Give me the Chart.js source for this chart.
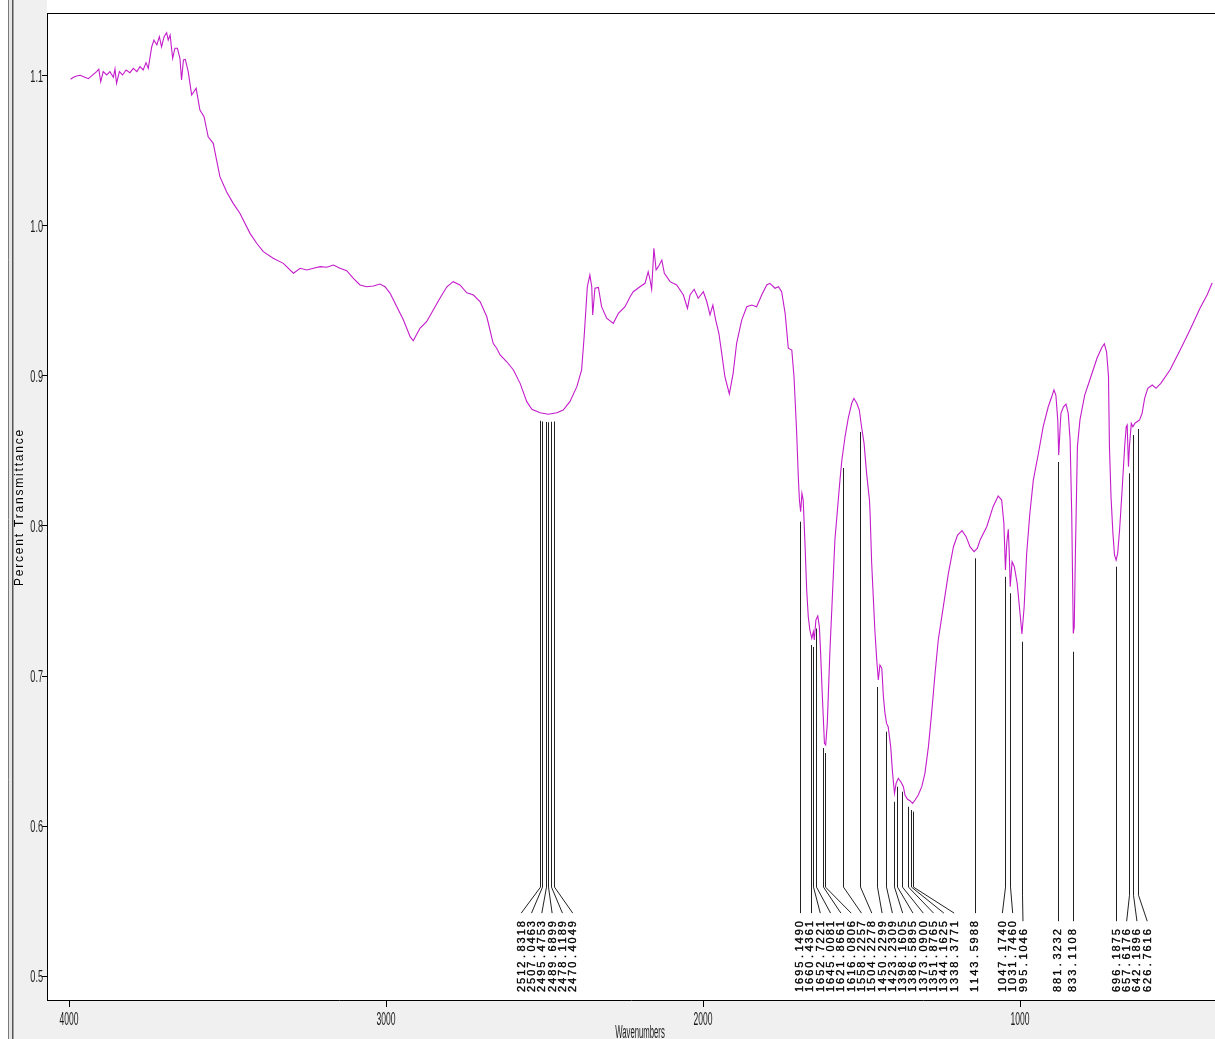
<!DOCTYPE html>
<html>
<head>
<meta charset="utf-8">
<title>IR Spectrum</title>
<script src="https://cdn.jsdelivr.net/npm/chart.js@4.4.1/dist/chart.umd.min.js"></script>
<style>
  html, body { margin: 0; padding: 0; background: #fff; overflow: hidden; }
  canvas { display: block; }
</style>
</head>
<body>
<canvas id="spectrum" width="1215" height="1039"></canvas>
<script>
// Spectrum: wavenumber (cm-1) and percent transmittance, high to low wavenumber
const wavenumbers = [
  3995, 3986, 3976, 3965, 3950, 3939, 3925, 3913, 3906, 3900, 3892, 3881, 3871, 3860, 3855, 3850,
  3841, 3831, 3820, 3808, 3797, 3786, 3776, 3766, 3757, 3750, 3739, 3732, 3723, 3715, 3708, 3700,
  3692, 3687, 3681, 3673, 3666, 3658, 3650, 3645, 3639, 3633, 3624, 3613, 3599, 3587, 3574, 3561,
  3545, 3524, 3503, 3482, 3461, 3429, 3408, 3387, 3356, 3324, 3292, 3271, 3250, 3229, 3208, 3187,
  3166, 3145, 3124, 3103, 3082, 3061, 3040, 3019, 3003, 2987, 2966, 2945, 2924, 2914, 2893, 2872,
  2851, 2830, 2808, 2788, 2767, 2745, 2724, 2703, 2682, 2662, 2651, 2640, 2619, 2598, 2577, 2556,
  2540, 2514, 2488, 2461, 2441, 2420, 2398, 2383, 2375, 2365, 2357, 2351, 2348, 2341, 2330, 2320,
  2304, 2283, 2267, 2246, 2230, 2220, 2199, 2183, 2173, 2167, 2162, 2155, 2148, 2141, 2130, 2122,
  2104, 2083, 2062, 2049, 2041, 2028, 2015, 1999, 1988, 1978, 1969, 1960, 1950, 1941, 1931, 1917,
  1905, 1894, 1878, 1862, 1846, 1831, 1815, 1799, 1789, 1773, 1762, 1752, 1741, 1731, 1720, 1713,
  1705, 1699, 1696, 1692, 1688, 1684, 1678, 1673, 1668, 1663, 1657, 1652, 1649, 1644, 1638, 1633,
  1629, 1624, 1617, 1613, 1608, 1600, 1592, 1584, 1576, 1568, 1562, 1552, 1542, 1531, 1524, 1515,
  1507, 1500, 1492, 1484, 1475, 1473, 1468, 1463, 1458, 1452, 1447, 1442, 1436, 1431, 1426, 1421,
  1416, 1408, 1402, 1396, 1391, 1384, 1376, 1368, 1363, 1355, 1347, 1339, 1331, 1321, 1310, 1300,
  1289, 1279, 1268, 1258, 1242, 1226, 1210, 1197, 1183, 1170, 1158, 1145, 1135, 1126, 1105, 1085,
  1069, 1058, 1051, 1046, 1042, 1037, 1034, 1031, 1025, 1018, 1009, 1000, 994, 987, 979, 969,
  958, 942, 927, 911, 900, 893, 887, 881, 878, 874, 871, 863, 855, 848, 842, 837,
  832, 829, 825, 819, 811, 796, 780, 757, 742, 734, 727, 721, 718, 713, 707, 702,
  697, 692, 686, 678, 670, 665, 662, 658, 655, 649, 644, 638, 631, 623, 615, 607,
  597, 583, 571, 556, 527, 495, 464, 432, 410, 394
];
const transmittance = [
  1.0978, 1.0991, 1.1000, 1.1005, 1.0991, 1.0982, 1.1007, 1.1029, 1.1045, 1.0962, 1.1029, 1.1007, 1.1029, 1.0991, 1.1047, 1.0951,
  1.1029, 1.1007, 1.1040, 1.1022, 1.1051, 1.1029, 1.1062, 1.1040, 1.1089, 1.1051, 1.1195, 1.1240, 1.1207, 1.1262, 1.1195, 1.1262,
  1.1289, 1.1240, 1.1273, 1.1118, 1.1185, 1.1185, 1.1118, 1.0973, 1.1107, 1.1111, 1.1029, 1.0873, 1.0918, 1.0773, 1.0729, 1.0595,
  1.0551, 1.0329, 1.0229, 1.0151, 1.0085, 0.9951, 0.9885, 0.9829, 0.9785, 0.9751, 0.9685, 0.9718, 0.9707, 0.9718, 0.9729, 0.9725,
  0.9740, 0.9718, 0.9702, 0.9651, 0.9607, 0.9595, 0.9600, 0.9613, 0.9595, 0.9551, 0.9462, 0.9373, 0.9262, 0.9235, 0.9318, 0.9362,
  0.9440, 0.9518, 0.9595, 0.9629, 0.9607, 0.9555, 0.9540, 0.9495, 0.9395, 0.9218, 0.9185, 0.9140, 0.9095, 0.9040, 0.8951, 0.8829,
  0.8778, 0.8755, 0.8745, 0.8755, 0.8773, 0.8829, 0.8929, 0.9040, 0.9262, 0.9595, 0.9673, 0.9595, 0.9407, 0.9585, 0.9591, 0.9462,
  0.9385, 0.9351, 0.9418, 0.9462, 0.9529, 0.9562, 0.9595, 0.9618, 0.9695, 0.9640, 0.9578, 0.9851, 0.9707, 0.9729, 0.9773, 0.9685,
  0.9629, 0.9607, 0.9540, 0.9451, 0.9540, 0.9578, 0.9518, 0.9562, 0.9495, 0.9407, 0.9473, 0.9373, 0.9285, 0.9151, 0.8995, 0.8880,
  0.9018, 0.9218, 0.9373, 0.9462, 0.9473, 0.9462, 0.9540, 0.9607, 0.9618, 0.9585, 0.9595, 0.9562, 0.9418, 0.9185, 0.9173, 0.8995,
  0.8640, 0.8307, 0.8173, 0.8095, 0.8218, 0.8173, 0.7862, 0.7573, 0.7395, 0.7307, 0.7251, 0.7295, 0.7240, 0.7373, 0.7400, 0.7329,
  0.7151, 0.6884, 0.6551, 0.6540, 0.6684, 0.7151, 0.7529, 0.7907, 0.8107, 0.8307, 0.8440, 0.8595, 0.8718, 0.8818, 0.8851, 0.8818,
  0.8773, 0.8662, 0.8551, 0.8351, 0.8173, 0.8085, 0.7751, 0.7529, 0.7307, 0.7107, 0.6973, 0.7073, 0.7051, 0.6862, 0.6751, 0.6684,
  0.6662, 0.6529, 0.6351, 0.6218, 0.6284, 0.6318, 0.6295, 0.6262, 0.6207, 0.6178, 0.6169, 0.6151, 0.6173, 0.6207, 0.6262, 0.6351,
  0.6529, 0.6751, 0.7018, 0.7240, 0.7462, 0.7684, 0.7862, 0.7940, 0.7969, 0.7929, 0.7862, 0.7829, 0.7851, 0.7907, 0.7995, 0.8129,
  0.8200, 0.8173, 0.8018, 0.7707, 0.7885, 0.7978, 0.7818, 0.7595, 0.7762, 0.7729, 0.7618, 0.7418, 0.7280, 0.7462, 0.7818, 0.8085,
  0.8307, 0.8485, 0.8662, 0.8795, 0.8862, 0.8907, 0.8873, 0.8707, 0.8473, 0.8640, 0.8751, 0.8795, 0.8813, 0.8751, 0.8573, 0.8085,
  0.7284, 0.7329, 0.7862, 0.8529, 0.8707, 0.8873, 0.8973, 0.9120, 0.9190, 0.9215, 0.9160, 0.9000, 0.8530, 0.8195, 0.7951, 0.7807,
  0.7773, 0.7818, 0.7973, 0.8240, 0.8529, 0.8662, 0.8673, 0.8395, 0.8529, 0.8684, 0.8662, 0.8684, 0.8695, 0.8707, 0.8751, 0.8851,
  0.8918, 0.8940, 0.8918, 0.8951, 0.9040, 0.9173, 0.9307, 0.9453, 0.9540, 0.9620
];

// Picked peaks: label text (wavenumber) and transmittance at the pick
const peakLabels = [
  '2512.8318', '2507.0463', '2495.4753', '2489.6899', '2478.1189', '2470.4049',
  '1695.1490', '1660.4361', '1652.7221', '1645.0081', '1621.8661', '1616.0806',
  '1558.2257', '1504.2278', '1450.2299', '1423.2309', '1398.1605', '1386.5895',
  '1373.0900', '1351.8765', '1344.1625', '1338.3771', '1143.5988',
  '1047.1740', '1031.7460', '995.1046', '881.3232', '833.1108',
  '696.1875', '657.6176', '642.1896', '626.7616'
];
const peakTransmittance = [
  0.8755, 0.8750, 0.8747, 0.8745, 0.8748, 0.8750,
  0.8082, 0.7260, 0.7247, 0.7370, 0.6573, 0.6540,
  0.8440, 0.8680, 0.6980, 0.6682, 0.6215, 0.6315,
  0.6282, 0.6182, 0.6160, 0.6149, 0.7838,
  0.7715, 0.7605, 0.7282, 0.8480, 0.7215,
  0.7782, 0.8405, 0.8660, 0.8700
];

const xTicks = [4000, 3000, 2000, 1000];
const yTicks = [0.5, 0.6, 0.7, 0.8, 0.9, 1.0, 1.1];
const xTitle = 'Wavenumbers';
const yTitle = 'Percent Transmittance';

const SANS = '"Liberation Sans", Arial, "DejaVu Sans", sans-serif';
const LINE_COLOR = '#c41bcb';

// Window background, left and bottom panels
const framePlugin = {
  id: 'frame',
  beforeDraw(chart) {
    const { ctx, chartArea: a, width, height } = chart;
    ctx.save();
    ctx.fillStyle = '#ffffff';
    ctx.fillRect(0, 0, width, height);
    ctx.fillStyle = '#f0f0f0';
    ctx.fillRect(13, 0, a.left - 13, height);
    ctx.fillRect(13, a.bottom, width - 13, height - a.bottom);
    ctx.fillStyle = '#e6e6e6';
    ctx.fillRect(9, 0, 3, height);
    ctx.strokeStyle = '#7a7a7a';
    ctx.lineWidth = 1;
    ctx.beginPath(); ctx.moveTo(8.5, 0); ctx.lineTo(8.5, height); ctx.stroke();
    ctx.strokeStyle = '#555';
    ctx.lineWidth = 1.5;
    ctx.beginPath(); ctx.moveTo(12.75, 0); ctx.lineTo(12.75, height); ctx.stroke();
    ctx.restore();
  },
  afterDraw(chart) {
    const { ctx, chartArea: a } = chart;
    ctx.save();
    ctx.strokeStyle = '#000';
    ctx.lineWidth = 1;
    ctx.beginPath();
    ctx.moveTo(a.left, a.top + 0.5);
    ctx.lineTo(a.right, a.top + 0.5);
    ctx.stroke();
    ctx.restore();
  }
};

function condensedText(ctx, text, x, y, size, sx, align) {
  ctx.save();
  ctx.translate(x, y);
  ctx.scale(sx, 1);
  ctx.font = size + 'px ' + SANS;
  ctx.textAlign = align;
  ctx.textBaseline = 'alphabetic';
  ctx.fillText(text, 0, 0);
  ctx.restore();
}

// Tick labels and axis titles
const axisTextPlugin = {
  id: 'axisText',
  afterDraw(chart) {
    const { ctx, chartArea: a } = chart;
    const xs = chart.scales.x, ys = chart.scales.y;
    ctx.save();
    ctx.fillStyle = '#1a1a1a';
    yTicks.forEach(v => {
      const py = ys.getPixelForValue(v);
      condensedText(ctx, v.toFixed(1), a.left - 4, py + 5.5, 16, 0.57, 'right');
    });
    xTicks.forEach(v => {
      const px = xs.getPixelForValue(v);
      condensedText(ctx, String(v), px, a.bottom + 25, 18, 0.475, 'center');
    });
    condensedText(ctx, xTitle, 640, a.bottom + 38, 18, 0.43, 'center');

    ctx.translate(20, 507);
    ctx.rotate(-Math.PI / 2);
    ctx.font = '12px ' + SANS;
    if ('letterSpacing' in ctx) ctx.letterSpacing = '1.8px';
    ctx.textAlign = 'center';
    ctx.textBaseline = 'middle';
    ctx.fillStyle = '#000';
    ctx.fillText(yTitle, 0, 0);
    ctx.restore();
  }
};

// Spread label columns so that they never overlap
function layoutLabels(lineX, gap) {
  const pos = lineX.slice();
  const clusters = [];
  let cur = [0];
  for (let i = 1; i < lineX.length; i++) {
    if (lineX[i] - lineX[i - 1] < gap) cur.push(i);
    else { clusters.push(cur); cur = [i]; }
  }
  clusters.push(cur);
  let prevEnd = -Infinity;
  clusters.forEach(c => {
    const mean = c.reduce((s, i) => s + lineX[i], 0) / c.length;
    let start = mean - (c.length - 1) * gap / 2;
    if (start < prevEnd + gap) start = prevEnd + gap;
    c.forEach((i, k) => { pos[i] = start + k * gap; });
    prevEnd = start + (c.length - 1) * gap;
  });
  return pos;
}

// Peak pick lines and rotated labels
const peakPlugin = {
  id: 'peaks',
  afterDatasetsDraw(chart) {
    const { ctx } = chart;
    const xs = chart.scales.x, ys = chart.scales.y;
    const base = 993, pitch = 8.1, gap = 10.3;
    const order = peakLabels.map((t, i) => i)
      .sort((p, q) => xs.getPixelForValue(parseFloat(peakLabels[p])) - xs.getPixelForValue(parseFloat(peakLabels[q])));
    const lineX = order.map(i => xs.getPixelForValue(parseFloat(peakLabels[i])));
    const labX = layoutLabels(lineX, gap);

    ctx.save();
    order.forEach((idx, k) => {
      const text = peakLabels[idx];
      const x0 = Math.round(lineX[k]) + 0.5;
      const lx = labX[k];
      const top = ys.getPixelForValue(peakTransmittance[idx]) + 8;
      const labelTop = base - text.length * pitch;
      const end = labelTop - 7;
      ctx.strokeStyle = '#222';
      ctx.lineWidth = 1;
      ctx.beginPath();
      ctx.moveTo(x0, top);
      if (Math.abs(lx - lineX[k]) < 1) {
        ctx.lineTo(x0, end);
      } else {
        const knee = end - 26;
        ctx.lineTo(x0, knee);
        ctx.lineTo(lx, end);
      }
      ctx.stroke();

      ctx.save();
      ctx.translate(lx, base);
      ctx.rotate(-Math.PI / 2);
      ctx.fillStyle = '#000';
      ctx.strokeStyle = '#000';
      ctx.lineWidth = 0.35;
      ctx.font = '11px ' + SANS;
      ctx.textAlign = 'center';
      ctx.textBaseline = 'middle';
      for (let c = 0; c < text.length; c++) {
        ctx.fillText(text[c], c * pitch + pitch / 2, 0.5);
        ctx.strokeText(text[c], c * pitch + pitch / 2, 0.5);
      }
      ctx.restore();
    });
    ctx.restore();
  }
};

const points = wavenumbers.map((w, i) => ({ x: w, y: transmittance[i] }));

new Chart(document.getElementById('spectrum'), {
  type: 'scatter',
  data: {
    datasets: [{
      data: points,
      showLine: true,
      borderColor: LINE_COLOR,
      borderWidth: 1.1,
      pointRadius: 0,
      tension: 0,
      fill: false
    }]
  },
  options: {
    responsive: false,
    animation: false,
    devicePixelRatio: 1,
    layout: { padding: { left: 0, right: 0, top: 13, bottom: 0 } },
    plugins: { legend: { display: false }, tooltip: { enabled: false } },
    scales: {
      x: {
        type: 'linear',
        reverse: true,
        min: 385,
        max: 4069.4,
        afterBuildTicks: s => { s.ticks = xTicks.map(v => ({ value: v })); },
        afterFit: s => { s.height = 39; },
        ticks: { display: false },
        grid: { drawOnChartArea: false, drawTicks: true, tickLength: 7, color: '#000', lineWidth: 1 },
        border: { display: true, color: '#000', width: 1 }
      },
      y: {
        type: 'linear',
        min: 0.484,
        max: 1.142,
        afterBuildTicks: s => { s.ticks = yTicks.map(v => ({ value: v })); },
        afterFit: s => { s.width = 47; },
        ticks: { display: false },
        grid: { drawOnChartArea: false, drawTicks: true, tickLength: 5, color: '#000', lineWidth: 1 },
        border: { display: true, color: '#000', width: 1 }
      }
    }
  },
  plugins: [framePlugin, peakPlugin, axisTextPlugin]
});
</script>
</body>
</html>
